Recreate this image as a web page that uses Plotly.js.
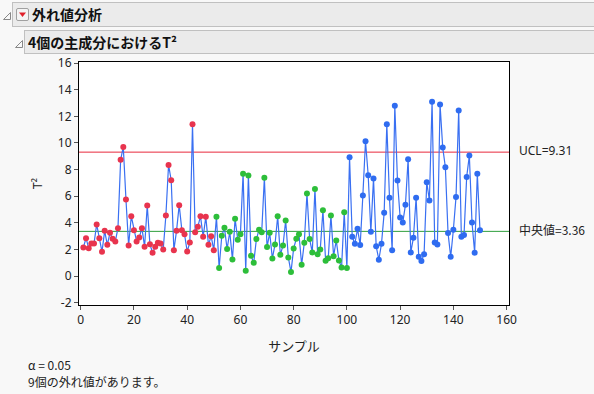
<!DOCTYPE html>
<html>
<head>
<meta charset="utf-8">
<script src="https://cdn.plot.ly/plotly-3.0.1.min.js"></script>
<style>
  html, body { margin:0; padding:0; background:#f8f8f8; width:594px; height:394px; overflow:hidden;
    font-family: "Noto Sans CJK JP", "Noto Sans", sans-serif; }
  #chart { position:absolute; left:0; top:0; width:594px; height:394px; }
  .bar { position:absolute; background:#ebebeb; border-top:1px solid #c0c0c0; border-bottom:1px solid #c0c0c0;
    border-left:1px solid #c0c0c0; box-sizing:border-box; }
  .htext { position:absolute; font-weight:bold; font-size:14px; color:#111; line-height:16px; }
  .tri { position:absolute; width:0; height:0; }
  .foot { position:absolute; font-size:12px; color:#222; left:28px; line-height:14px; }
</style>
</head>
<body>
<div id="chart"></div>
<div class="bar" style="left:12px; top:2px; width:582px; height:25px;"></div>
<div class="bar" style="left:24px; top:30px; width:570px; height:24px;"></div>
<svg style="position:absolute;left:0;top:0" width="40" height="60">
  <path d="M3.5 19.5 L10.5 12.5 L10.5 19.5 Z" fill="none" stroke="#888" stroke-width="1"/>
  <path d="M15.5 47.5 L22.5 40.5 L22.5 47.5 Z" fill="none" stroke="#888" stroke-width="1"/>
  <rect x="16.5" y="8.5" width="12" height="12" rx="1.5" fill="#f4f4f4" stroke="#a0a0a0"/>
  <path d="M19 12.5 L26 12.5 L22.5 17 Z" fill="#e0202a"/>
</svg>
<div class="htext" style="left:32px; top:6px;">外れ値分析</div>
<div class="htext" style="left:28px; top:34px;">4個の主成分におけるT²</div>
<div class="foot" style="top:358px;">α = 0.05</div>
<div class="foot" style="top:375px;">9個の外れ値があります。</div>
<script>
// T² values, three groups of samples
const t2Group1 = [2.15,2.85,2.1,2.45,2.45,3.88,2.85,1.82,3.4,2.35,
                  3.25,2.8,2.6,3.6,8.73,9.7,5.75,2.3,4.5,3.45,
                  2.6,2.9,3.6,2.2,5.3,2.4,1.75,2.2,2.5,2.45,
                  2.0,4.55,8.35,7.2,1.95,3.4,5.33,3.45,3.15,1.85,
                  2.53,11.4,3.3,3.7,4.5,2.95,4.45,2.35,3.0,1.95];
const t2Group2 = [4.45,0.6,3.03,3.63,2.03,3.33,1.25,4.3,2.73,3.15,
                  7.68,0.4,7.55,1.52,1.0,2.78,3.48,3.3,7.38,2.18,
                  3.25,1.33,2.38,4.5,1.6,2.3,4.18,1.4,0.3,2.08,
                  2.8,3.15,0.85,2.5,6.2,2.78,1.78,6.55,1.65,2.0,
                  4.95,1.15,1.35,4.55,1.5,2.68,1.18,0.65,4.8,0.6];
const t2Group3 = [8.93,2.95,2.43,3.55,2.33,6.05,10.13,7.58,3.33,7.33,
                  2.25,1.23,2.43,4.75,11.4,5.88,1.95,12.8,7.18,4.4,
                  4.03,5.35,8.78,1.78,2.88,5.88,1.45,1.13,1.65,7.05,
                  5.68,13.1,2.53,2.38,12.88,9.65,8.18,3.23,1.45,3.48,
                  5.95,12.43,2.95,3.08,7.45,9.05,4.03,1.75,7.68,3.45];
const ucl = 9.31;
const centerValue = 3.36;
const xTicks = [0,20,40,60,80,100,120,140,160];
const yTicks = [-2,0,2,4,6,8,10,12,14,16];

const allT2 = t2Group1.concat(t2Group2, t2Group3);
const samples = allT2.map((_, i) => i + 1);
const s1 = samples.slice(0, t2Group1.length);
const s2 = samples.slice(t2Group1.length, t2Group1.length + t2Group2.length);
const s3 = samples.slice(t2Group1.length + t2Group2.length);

const lineTrace = { x: samples, y: allT2, mode: 'lines', type: 'scatter',
  line: { color: '#3a70f2', width: 1.2 }, hoverinfo: 'skip' };
const mk = (x, y, c) => ({ x, y, mode: 'markers', type: 'scatter',
  marker: { color: c, size: 6, line: { width: 0 } } });

const shapes = [
  { type: 'line', xref: 'paper', x0: 0, x1: 1, yref: 'y', y0: ucl, y1: ucl,
    line: { color: '#e8283c', width: 1 }, layer: 'below' },
  { type: 'line', xref: 'paper', x0: 0, x1: 1, yref: 'y', y0: centerValue, y1: centerValue,
    line: { color: '#2e9e3c', width: 1 }, layer: 'below' }
];

const layout = {
  width: 594, height: 394,
  margin: { l: 79, r: 85, t: 62, b: 89 },
  paper_bgcolor: '#f8f8f8', plot_bgcolor: '#ffffff',
  font: { family: '"Noto Sans", "Noto Sans CJK JP", sans-serif', size: 12, color: '#222' },
  showlegend: false,
  xaxis: { range: [-0.64, 160.9], tickvals: xTicks, ticktext: xTicks.map(String),
    showgrid: false, zeroline: false, showline: true, mirror: true, linecolor: '#000', linewidth: 1,
    ticks: 'outside', ticklen: 4, tickcolor: '#555',
    title: { text: 'サンプル', font: { family: '"Noto Sans CJK JP", sans-serif', size: 13, color: '#222' }, standoff: 14 } },
  yaxis: { range: [-2.17, 16.08], tickvals: yTicks, ticktext: yTicks.map(String),
    showgrid: false, zeroline: false, showline: true, mirror: true, linecolor: '#000', linewidth: 1,
    ticks: 'outside', ticklen: 4, tickcolor: '#555',
    title: { text: 'T²', font: { size: 12, color: '#222' }, standoff: 12 } },
  shapes: shapes,
  annotations: [
    { xref: 'paper', x: 1, xanchor: 'left', xshift: 8, yref: 'y', y: ucl, yanchor: 'middle', yshift: 2,
      text: 'UCL=9.31', showarrow: false, font: { size: 12, color: '#222' } },
    { xref: 'paper', x: 1, xanchor: 'left', xshift: 8, yref: 'y', y: centerValue, yanchor: 'middle', yshift: 2,
      text: '中央値=3.36', showarrow: false, font: { family: '"Noto Sans CJK JP", sans-serif', size: 12, color: '#222' } }
  ]
};

Plotly.newPlot('chart', [lineTrace, mk(s1, t2Group1, '#e8344e'), mk(s2, t2Group2, '#2dbe3a'), mk(s3, t2Group3, '#2f6cf0')],
  layout, { staticPlot: true, displayModeBar: false });
</script>
</body>
</html>
